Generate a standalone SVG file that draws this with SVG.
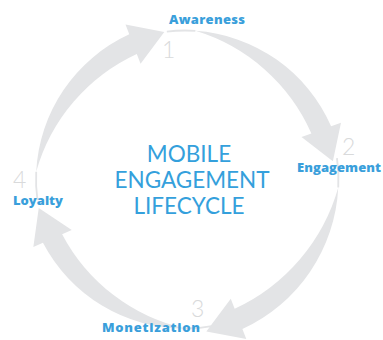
<svg xmlns="http://www.w3.org/2000/svg" xmlns:xlink="http://www.w3.org/1999/xlink" width="383" height="340" viewBox="0 0 383 340">
<style>
.arrow{fill:#e3e4e6}
.tail{fill:none;stroke:#e3e4e6;stroke-width:1.8}
.num{font-family:Lato,"Open Sans",sans-serif;font-weight:300;font-size:23px;fill:#d9dadb}
.lbl{font-family:"Open Sans",Lato,sans-serif;font-weight:800;font-size:13px;fill:#3a9fdb}
.title{font-family:Lato,"Open Sans",sans-serif;font-weight:400;font-size:22.5px;fill:#34a0dc;text-anchor:middle}
</style>
<defs>
<g id="arrowShape">
<path class="tail" d="M -147.55 20.74 A 149 149 0 0 1 -148.80 -7.80"/>
<path class="arrow" d="M -148.80 -7.80 A 160 160 0 0 1 -55.73 -145.17 L -59.49 -154.97 L -20.74 -147.55 L -44.44 -115.76 L -48.20 -125.57 A 185 185 0 0 0 -148.80 -7.80 Z"/>
</g>
</defs>
<g id="connectors">
<use id="arrow1" xlink:href="#arrowShape" transform="translate(185,179.5)"/>
<use id="arrow2" xlink:href="#arrowShape" transform="translate(185,179.5) rotate(91)"/>
<use id="arrow3" xlink:href="#arrowShape" transform="translate(185,179.5) rotate(180) scale(1.03)"/>
<use id="arrow4" xlink:href="#arrowShape" transform="translate(185,179.5) rotate(267)"/>
</g>
<g id="title">
<text class="title" x="189" y="162">MOBILE</text>
<text class="title" x="192" y="188">ENGAGEMENT</text>
<text class="title" x="189" y="214">LIFECYCLE</text>
</g>
<g id="node-awareness">
<text class="num" x="162" y="58">1</text>
<text class="lbl" x="169" y="24" textLength="76" lengthAdjust="spacing">Awareness</text>
</g>
<g id="node-engagement">
<text class="num" x="342" y="155">2</text>
<text class="lbl" x="297" y="172" textLength="84" lengthAdjust="spacing">Engagement</text>
</g>
<g id="node-monetization">
<text class="num" x="191" y="317">3</text>
<text class="lbl" x="102" y="332" textLength="98" lengthAdjust="spacing">Monetization</text>
</g>
<g id="node-loyalty">
<text class="num" x="13" y="188">4</text>
<text class="lbl" x="13" y="205" textLength="50" lengthAdjust="spacing">Loyalty</text>
</g>
</svg>
